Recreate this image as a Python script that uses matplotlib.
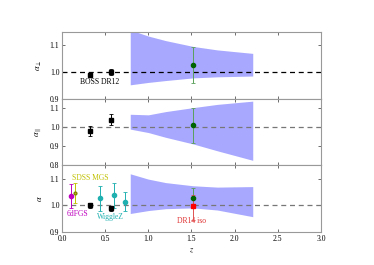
import numpy as np
import matplotlib
matplotlib.use("Agg")
import matplotlib.pyplot as plt

plt.rcParams['font.family'] = ['Liberation Serif', 'DejaVu Serif']
plt.rcParams['mathtext.fontset'] = 'stix'

# forecast band (z, lower, upper) per panel
z_band = [0.79, 1.0, 1.2, 1.52, 1.8, 2.21]
perp_lo = [0.952, 0.961, 0.968, 0.978, 0.982, 0.985]
perp_hi = [1.158, 1.135, 1.118, 1.096, 1.083, 1.070]
par_lo = [0.990, 0.972, 0.947, 0.912, 0.876, 0.826]
par_hi = [1.068, 1.065, 1.082, 1.103, 1.120, 1.137]
iso_lo = [0.969, 0.980, 0.987, 0.990, 0.982, 0.957]
iso_hi = [1.118, 1.098, 1.085, 1.073, 1.068, 1.070]

# BOSS DR12
boss_z = [0.32, 0.57]
boss_perp = [0.989, 1.000]
boss_perp_err = [0.007, 0.013]
boss_par = [0.980, 1.040]
boss_par_err = [0.026, 0.028]
boss_iso = [1.000, 0.988]
boss_iso_err = [0.010, 0.009]

# DR14 quasar-like forecast point
dr14_z = 1.52
dr14_perp, dr14_perp_err = 1.027, 0.068
dr14_par, dr14_par_err = 1.010, 0.093
dr14_iso, dr14_iso_err = 1.026, 0.038
dr14iso_val, dr14iso_up, dr14iso_dn = 0.996, 0.044, 0.052

# other BAO measurements
sixdf_z, sixdf_a, sixdf_err = 0.106, 1.033, 0.045
mgs_z, mgs_a, mgs_err = 0.15, 1.047, 0.037
wig_z = [0.44, 0.60, 0.73]
wig_a = [1.026, 1.037, 1.014]
wig_err = [0.048, 0.048, 0.034]

band_col = '#a8a8ff'
fig, axes = plt.subplots(3, 1, figsize=(3.74, 2.65), dpi=100, sharex=True)
fig.subplots_adjust(left=0.166, right=0.858, top=0.879, bottom=0.125, hspace=0)

bands = [(perp_lo, perp_hi), (par_lo, par_hi), (iso_lo, iso_hi)]
for ax, (lo, hi) in zip(axes, bands):
    ax.fill_between(z_band, lo, hi, color=band_col, lw=0, zorder=1)
    ax.set_xlim(0, 3.0)
    for s in ax.spines.values():
        s.set_color('#999999')
    ax.tick_params(direction='in', labelsize=5.5, length=2.5, width=0.6,
                   color='#555555', top=True, right=True, pad=2)

ax1, ax2, ax3 = axes
ax1.axhline(1.0, color='k', ls='--', lw=0.9, dashes=(4, 3), zorder=2)
ax2.axhline(1.0, color='#777777', ls='--', lw=0.9, dashes=(4, 3), zorder=2)
ax3.axhline(1.0, color='#777777', ls='--', lw=0.9, dashes=(4, 3), zorder=2)

ax1.set_ylim(0.9, 1.15)
ax1.set_yticks([0.9, 1.0, 1.1])
ax2.set_ylim(0.8, 1.15)
ax2.set_yticks([0.8, 0.9, 1.0, 1.1])
ax3.set_ylim(0.9, 1.15)
ax3.set_yticks([0.9, 1.0, 1.1])

ekw = dict(capsize=1.5, elinewidth=0.7, capthick=0.6, zorder=4)

# top panel
ax1.errorbar(boss_z, boss_perp, yerr=boss_perp_err, fmt='s', color='k',
             ms=3, **ekw)
ax1.errorbar(dr14_z, dr14_perp, yerr=dr14_perp_err, fmt='o', color='#5aa05a',
             mfc='darkgreen', mec='darkgreen', ms=3, **ekw)
ax1.text(0.44, 0.962, 'BOSS DR12', fontsize=5.5, ha='center', va='center')
ax1.set_ylabel(r'$\alpha_\perp$', fontsize=6, labelpad=4)

# middle panel
ax2.errorbar(boss_z, boss_par, yerr=boss_par_err, fmt='s', color='k',
             ms=3, **ekw)
ax2.errorbar(dr14_z, dr14_par, yerr=dr14_par_err, fmt='o', color='#5aa05a',
             mfc='darkgreen', mec='darkgreen', ms=3, **ekw)
ax2.set_ylabel(r'$\alpha_\parallel$', fontsize=6, labelpad=4)

# bottom panel
ax3.errorbar(sixdf_z, sixdf_a, yerr=sixdf_err, fmt='o', color='m', ms=3, **ekw)
ax3.errorbar(mgs_z, mgs_a, yerr=mgs_err, fmt='o', color='#c0c000',
             mfc='#c0c000', mec='#808000', ms=2, **ekw)
ax3.errorbar(boss_z, boss_iso, yerr=boss_iso_err, fmt='s', color='k',
             ms=3, **ekw)
ax3.errorbar(wig_z, wig_a, yerr=wig_err, fmt='o', color='#20b0b0', ms=3, **ekw)
ax3.errorbar(dr14_z, dr14_iso, yerr=dr14_iso_err, fmt='o', color='#5aa05a',
             mfc='darkgreen', mec='darkgreen', ms=3, **ekw)
ax3.errorbar(dr14_z, dr14iso_val, yerr=[[dr14iso_dn], [dr14iso_up]], fmt='s',
             color='#e05050', mfc='red', mec='red', ms=2.5, **ekw)
ax3.text(0.33, 1.103, 'SDSS MGS', fontsize=5.5, color='#c0c000',
         ha='center', va='center')
ax3.text(0.18, 0.968, '6dFGS', fontsize=5.5, color='m', ha='center', va='center')
ax3.text(0.56, 0.955, 'WiggleZ', fontsize=5.5, color='#20b0b0',
         ha='center', va='center')
ax3.text(1.5, 0.94, 'DR14 iso', fontsize=5.5, color='#e03030',
         ha='center', va='center')
ax3.set_ylabel(r'$\alpha$', fontsize=6, labelpad=4)
ax3.set_xlabel(r'$z$', fontsize=6, labelpad=3)
ax3.set_xticks([0.0, 0.5, 1.0, 1.5, 2.0, 2.5, 3.0])

fig.savefig('out.png', dpi=100)
